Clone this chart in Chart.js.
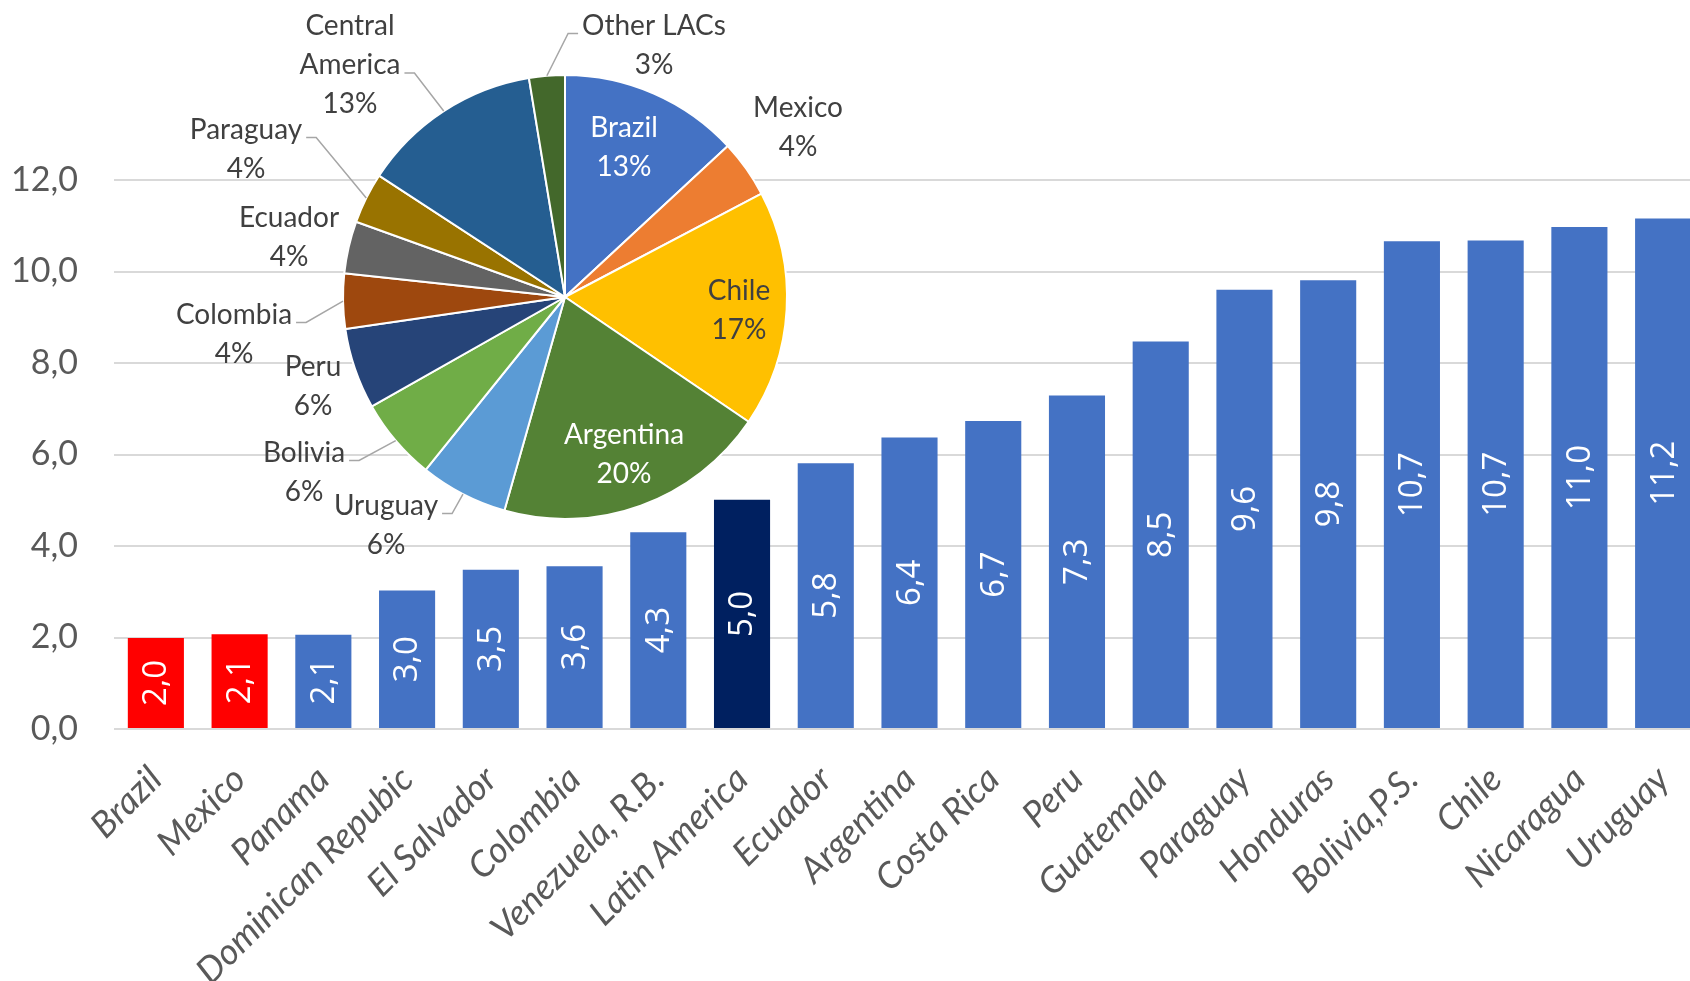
<!DOCTYPE html>
<html>
<head>
<meta charset="utf-8">
<script src="https://cdn.jsdelivr.net/npm/chart.js@4.4.1/dist/chart.umd.min.js"></script>
<style>
  html, body { margin: 0; padding: 0; background: #fff; overflow: hidden; }
  #wrap { position: relative; width: 1705px; height: 981px; overflow: hidden; }
  #bars { position: absolute; left: 0; top: 0; width: 1705px; height: 981px; }
  #pie { position: absolute; left: 0; top: 0; width: 1690px; height: 981px; }
</style>
</head>
<body>
<div id="wrap">
  <canvas id="bars" width="1705" height="981"></canvas>
  <canvas id="pie" width="1690" height="981"></canvas>
</div>
<script>
// bar chart data
var countries = ['Brazil', 'Mexico', 'Panama', 'Dominican Repubic', 'El Salvador', 'Colombia',
  'Venezuela, R.B.', 'Latin America', 'Ecuador', 'Argentina', 'Costa Rica', 'Peru', 'Guatemala',
  'Paraguay', 'Honduras', 'Bolivia,P.S.', 'Chile', 'Nicaragua', 'Uruguay'];
var values = [1.99, 2.07, 2.06, 3.03, 3.48, 3.56, 4.3, 5.01, 5.81, 6.37, 6.73, 7.29, 8.47,
  9.6, 9.81, 10.66, 10.68, 10.97, 11.16];
var redBars = ['Brazil', 'Mexico'];
var averageBar = 'Latin America';
var yTicks = [0, 2, 4, 6, 8, 10, 12];

// pie chart data
var pieNames = ['Brazil', 'Mexico', 'Chile', 'Argentina', 'Uruguay', 'Bolivia', 'Peru',
  'Colombia', 'Ecuador', 'Paraguay', 'Central America', 'Other LACs'];
var pieShares = [13.1, 4.2, 17.2, 19.9, 6.4, 6.0, 5.9, 4.0, 3.8, 3.7, 13.2, 2.6];
var pieColors = ['#4472C4', '#ED7D31', '#FFC000', '#548235', '#5B9BD5', '#70AD47', '#264478',
  '#9E480E', '#636363', '#997300', '#255E91', '#43682B'];

// pie label layout (offset from the pie centre, px) and leader lines
var pieLabelOffset = [[59, -150], [233, -170], [174, 13], [59, 157], [-179, 228], [-261, 175],
  [-252, 89], [-331, 37], [-276, -60], [-319, -148], [-215, -232], [89, -252]];
var pieLeader = [false, false, false, false, true, true, false, true, false, true, true, true];
var pieInsideWhite = ['Brazil', 'Argentina'];
var pieWrap = { 'Central America': ['Central', 'America'] };

function comma(v) { return v.toFixed(1).replace('.', ','); }

var barLabels = {
  id: 'barLabels',
  afterDatasetsDraw: function(chart) {
    var ctx = chart.ctx;
    var meta = chart.getDatasetMeta(0);
    ctx.save();
    ctx.fillStyle = '#ffffff';
    ctx.font = '33px "Open Sans"';
    ctx.textAlign = 'center';
    ctx.textBaseline = 'middle';
    meta.data.forEach(function(bar, i) {
      ctx.save();
      ctx.translate(bar.x, (bar.y + bar.base) / 2);
      ctx.rotate(-Math.PI / 2);
      ctx.fillText(comma(values[i]), 0, 1);
      ctx.restore();
    });
    ctx.restore();
  }
};

new Chart(document.getElementById('bars'), {
  type: 'bar',
  data: {
    labels: countries,
    datasets: [{
      data: values,
      backgroundColor: countries.map(function(c) {
        if (redBars.indexOf(c) >= 0) return '#FF0000';
        if (c === averageBar) return '#002060';
        return '#4472C4';
      }),
      barPercentage: 0.67,
      categoryPercentage: 1.0
    }]
  },
  options: {
    responsive: false,
    animation: false,
    events: [],
    layout: { padding: { top: 180, left: 0, right: 0, bottom: 0 } },
    plugins: { legend: { display: false }, tooltip: { enabled: false } },
    scales: {
      x: {
        grid: { display: false },
        border: { display: false },
        ticks: {
          autoSkip: false, maxRotation: 45, minRotation: 45, padding: 21,
          color: '#595959',
          font: { family: 'Lato', size: 36, style: 'italic' }
        },
        afterFit: function(s) { s.height = 252; s.paddingLeft = 0; s.paddingRight = 0; }
      },
      y: {
        min: yTicks[0], max: yTicks[yTicks.length - 1],
        afterBuildTicks: function(s) { s.ticks = yTicks.map(function(v) { return { value: v }; }); },
        grid: { color: '#d9d9d9', lineWidth: 2, drawTicks: false },
        border: { display: false },
        ticks: {
          padding: 36, color: '#595959',
          font: { family: 'Lato', size: 34 },
          callback: function(v) { return comma(v); }
        },
        afterFit: function(s) { s.width = 114; }
      }
    }
  },
  plugins: [barLabels]
});

var pieLabels = {
  id: 'pieLabels',
  afterDatasetsDraw: function(chart) {
    var ctx = chart.ctx;
    var arcs = chart.getDatasetMeta(0).data;
    var lh = 39;
    ctx.save();
    ctx.font = '28px Lato';
    ctx.textAlign = 'center';
    ctx.textBaseline = 'middle';
    arcs.forEach(function(arc, i) {
      var name = pieNames[i];
      var lines = (pieWrap[name] || [name]).concat([Math.round(pieShares[i]) + '%']);
      var cx = arc.x + pieLabelOffset[i][0];
      var cy = arc.y + pieLabelOffset[i][1];
      var top = cy - (lines.length - 1) * lh / 2;
      if (pieLeader[i]) {
        var mid = (arc.startAngle + arc.endAngle) / 2;
        var px = arc.x + Math.cos(mid) * arc.outerRadius;
        var py = arc.y + Math.sin(mid) * arc.outerRadius;
        var k = lines.length - 2;
        var w = ctx.measureText(lines[k]).width;
        var ay = top + k * lh + 8;
        var ex, bx;
        if (cx < px) { ex = cx + w / 2 + 4; bx = ex + 10; }
        else { ex = cx - w / 2 - 4; bx = ex - 10; }
        ctx.beginPath();
        ctx.moveTo(px, py);
        ctx.lineTo(bx, ay);
        ctx.lineTo(ex, ay);
        ctx.strokeStyle = '#a6a6a6';
        ctx.lineWidth = 1.5;
        ctx.stroke();
      }
      ctx.fillStyle = pieInsideWhite.indexOf(name) >= 0 ? '#ffffff' : '#404040';
      lines.forEach(function(t, j) { ctx.fillText(t, cx, top + j * lh); });
    });
    ctx.restore();
  }
};

new Chart(document.getElementById('pie'), {
  type: 'pie',
  data: {
    labels: pieNames,
    datasets: [{
      data: pieShares,
      backgroundColor: pieColors,
      borderColor: '#ffffff',
      borderWidth: 2,
      radius: 222
    }]
  },
  options: {
    responsive: false,
    animation: false,
    events: [],
    layout: { padding: { left: 343, right: 903, top: 75, bottom: 462 } },
    plugins: { legend: { display: false }, tooltip: { enabled: false } }
  },
  plugins: [pieLabels]
});
</script>
</body>
</html>
